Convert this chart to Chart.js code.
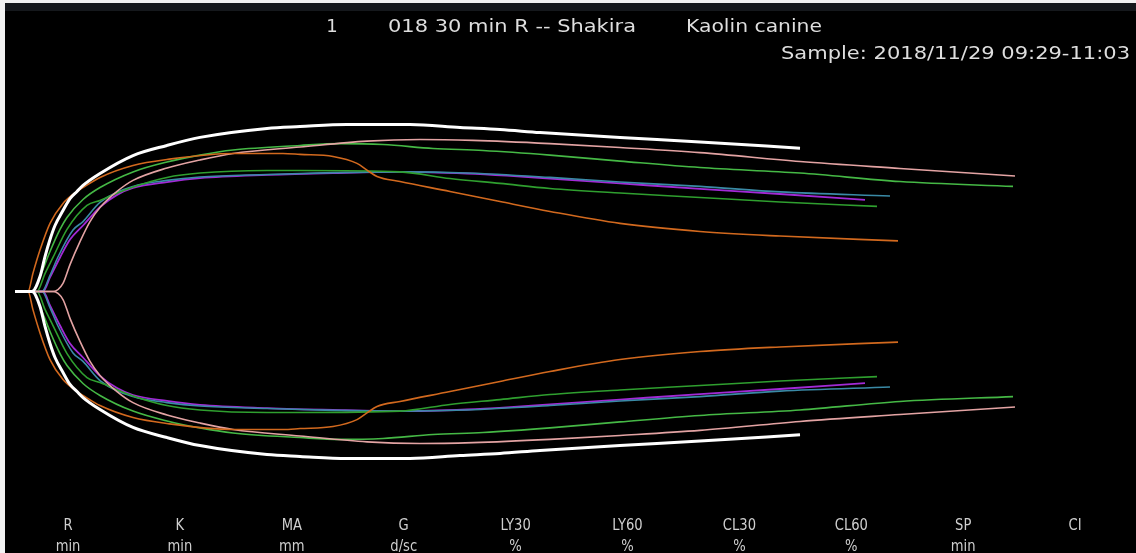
<!DOCTYPE html>
<html>
<head>
<meta charset="utf-8">
<script src="https://cdn.jsdelivr.net/npm/chart.js@4.4.1/dist/chart.umd.min.js"></script>
<style>
html,body{margin:0;padding:0;background:#000;overflow:hidden;}
#wrap{width:1136px;height:553px;position:relative;}
</style>
</head>
<body>
<div id="wrap"><canvas id="c" width="1136" height="553"></canvas></div>
<script>
// ---- Header / parameter texts ----
const headerTexts = ["1", "018 30 min R -- Shakira", "Kaolin canine"];
const sampleText = "Sample: 2018/11/29 09:29-11:03";
const paramNames = ["R", "K", "MA", "G", "LY30", "LY60", "CL30", "CL60", "SP", "CI"];
const paramUnits = ["min", "min", "mm", "d/sc", "%", "%", "%", "%", "min", ""];

// ---- Tracings: time (min) and amplitude (mm) ----
const whiteT  = [0, 1.7, 2.5, 3.0, 3.5, 4.0, 4.8, 5.5, 6.2, 6.8, 8.5, 11.8, 15.2, 18.5, 25.2, 28.5, 33.2, 39.5, 44.5, 48.5, 52.5, 60.5, 68.5, 78.5];
const whiteA  = [0, 0, 6.5, 15.2, 22.6, 28.7, 35.2, 40.4, 43.5, 46.1, 51.3, 59.1, 63.5, 67.0, 70.9, 71.7, 72.6, 72.6, 71.3, 70.4, 69.1, 67.0, 65.0, 62.3];

const orangeT = [0, 1.3, 1.8, 2.5, 3.5, 4.8, 6.2, 6.8, 8.5, 11.8, 15.2, 21.8, 26.8, 28.5, 31.8, 34.2, 35.2, 36.2, 38.5, 43.5, 48.5, 53.5, 60.5, 68.5, 76.5, 88.3];
const orangeA = [0, 0, 8.0, 18.0, 29.6, 38.3, 43.5, 45.2, 49.6, 54.8, 57.4, 60.0, 60.0, 59.6, 58.7, 55.7, 52.8, 50.0, 47.8, 43.5, 39.1, 34.8, 29.6, 26.1, 24.1, 22.0];

const pinkT   = [0, 3.8, 4.8, 5.5, 6.5, 7.5, 8.5, 10.2, 11.8, 15.2, 18.5, 21.8, 28.5, 35.2, 40.5, 45.8, 53.5, 60.5, 68.5, 78.5, 88.5, 100.0];
const pinkA   = [0, 0, 3.5, 11.7, 21.7, 30.4, 36.5, 43.5, 48.3, 53.7, 57.2, 60.0, 62.8, 65.4, 66.1, 65.7, 64.3, 62.6, 60.4, 56.5, 53.5, 50.2];

const greenAT = [0, 1.8, 2.5, 3.5, 4.5, 5.2, 6.8, 8.5, 11.8, 15.2, 18.5, 21.8, 28.5, 32.5, 36.8, 41.8, 46.8, 53.5, 60.5, 68.5, 78.5, 88.5, 99.8];
const greenAA = [0, 0, 6.5, 17.4, 27.0, 32.2, 40.0, 45.2, 52.0, 56.3, 59.3, 61.5, 63.5, 64.3, 63.9, 62.2, 61.3, 59.3, 56.7, 53.9, 51.5, 47.8, 45.7];

const greenBT = [0, 2.2, 3.0, 3.8, 5.2, 7.2, 8.5, 11.8, 15.2, 18.5, 25.2, 28.5, 38.5, 43.5, 48.5, 53.5, 60.5, 68.5, 76.5, 86.2];
const greenBA = [0, 0, 7.8, 14.8, 27.0, 37.4, 39.6, 45.4, 49.6, 51.5, 52.6, 52.6, 52.0, 49.1, 47.0, 44.8, 42.8, 40.9, 38.9, 37.0];

const tealT   = [0, 2.7, 3.5, 4.3, 5.8, 6.8, 8.5, 11.8, 15.2, 18.5, 25.2, 31.8, 38.5, 45.2, 53.5, 60.5, 68.5, 76.5, 87.5];
const tealA   = [0, 0, 7.0, 15.0, 26.7, 30.4, 38.7, 45.7, 48.3, 49.8, 50.9, 51.7, 52.0, 51.5, 49.6, 47.6, 45.7, 43.3, 41.5];

const purpleT = [0, 2.8, 3.5, 4.5, 5.5, 6.8, 8.5, 10.2, 11.8, 15.2, 18.5, 25.2, 31.8, 38.5, 45.2, 49.2, 53.5, 60.5, 68.5, 76.5, 85.0];
const purpleA = [0, 0, 6.1, 14.8, 22.6, 28.7, 36.7, 42.0, 45.0, 47.6, 49.3, 50.7, 51.5, 52.0, 51.3, 50.4, 49.1, 47.0, 44.6, 42.4, 39.8];

const series = [
  {t: whiteT,  a: whiteA,  color: "#ffffff", w: 3},
  {t: orangeT, a: orangeA, color: "#d2691e", w: 1.6},
  {t: pinkT,   a: pinkA,   color: "#e3a3a3", w: 1.6},
  {t: greenAT, a: greenAA, color: "#45b845", w: 1.6},
  {t: greenBT, a: greenBA, color: "#2f9f2f", w: 1.6},
  {t: tealT,   a: tealA,   color: "#3a8aa6", w: 1.6},
  {t: purpleT, a: purpleA, color: "#a22ad6", w: 1.8}
];

const datasets = [];
series.forEach(s => {
  [1, -1].forEach(sign => {
    datasets.push({
      data: s.t.map((t, i) => ({x: t, y: sign * s.a[i] / 2})),
      borderColor: s.color,
      borderWidth: s.w,
      pointRadius: 0,
      fill: false,
      tension: 0.3,
      cubicInterpolationMode: "monotone"
    });
  });
});

function fitText(ctx, txt, x, y, targetW, align) {
  const w = ctx.measureText(txt).width;
  const sx = targetW ? targetW / w : 1;
  ctx.save();
  let x0 = x;
  const realW = w * sx;
  if (align === "center") x0 = x - realW / 2;
  else if (align === "right") x0 = x - realW;
  ctx.translate(x0, y);
  ctx.scale(sx, 1);
  ctx.textAlign = "left";
  ctx.fillText(txt, 0, 0);
  ctx.restore();
}

const deco = {
  id: "deco",
  beforeDraw(chart) {
    const ctx = chart.ctx;
    ctx.save();
    ctx.fillStyle = "#000";
    ctx.fillRect(0, 0, chart.width, chart.height);
    ctx.fillStyle = "#15181c";
    ctx.fillRect(0, 3, chart.width, 8);
    ctx.fillStyle = "#f2f2f2";
    ctx.fillRect(0, 0, chart.width, 3);
    ctx.fillRect(0, 0, 5, chart.height);
    ctx.restore();
  },
  afterDraw(chart) {
    const ctx = chart.ctx;
    ctx.save();
    ctx.fillStyle = "#dedede";
    ctx.textBaseline = "alphabetic";
    ctx.font = '18px "DejaVu Sans"';
    fitText(ctx, headerTexts[0], 332, 32, 0, "center");
    fitText(ctx, headerTexts[1], 388, 32, 248, "left");
    fitText(ctx, headerTexts[2], 686, 32, 136, "left");
    fitText(ctx, sampleText, 1130, 59, 349, "right");
    ctx.fillStyle = "#cfcfcf";
    ctx.font = '16px "DejaVu Sans"';
    const x0 = 68, dx = 111.9;
    paramNames.forEach((n, i) => {
      const cx = x0 + i * dx;
      const w1 = ctx.measureText(n).width * 0.82;
      fitText(ctx, n, cx, 530, w1, "center");
      if (paramUnits[i]) {
        const w2 = ctx.measureText(paramUnits[i]).width * 0.82;
        fitText(ctx, paramUnits[i], cx, 551, w2, "center");
      }
    });
    ctx.restore();
  }
};

new Chart(document.getElementById("c"), {
  type: "line",
  data: {datasets},
  options: {
    responsive: false,
    animation: false,
    events: [],
    layout: {padding: 0},
    plugins: {legend: {display: false}, tooltip: {enabled: false}, title: {display: false}},
    scales: {
      x: {type: "linear", display: false, min: -1.5, max: 112.1},
      y: {type: "linear", display: false, min: -56.85, max: 63.37}
    }
  },
  plugins: [deco]
});
</script>
</body>
</html>
